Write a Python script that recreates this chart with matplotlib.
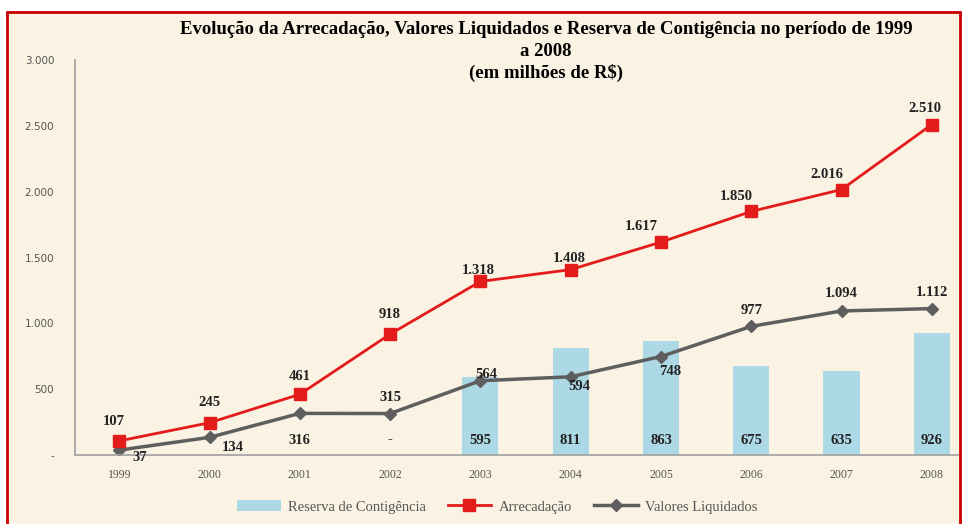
import numpy as np
import matplotlib.pyplot as plt
from matplotlib.patches import Rectangle

anos = ["1999", "2000", "2001", "2002", "2003", "2004", "2005", "2006", "2007", "2008"]
arrecadacao = [107, 245, 461, 918, 1318, 1408, 1617, 1850, 2016, 2510]
valores_liq = [37, 134, 316, 315, 564, 594, 748, 977, 1094, 1112]
reserva = [0, 0, 0, 0, 595, 811, 863, 675, 635, 926]
reserva_txt = ["", "", "316", "-", "595", "811", "863", "675", "635", "926"]
yticks = [0, 500, 1000, 1500, 2000, 2500, 3000]
ytick_txt = ["-", "500", "1.000", "1.500", "2.000", "2.500", "3.000"]


def fmt(v):
    return f"{v:,}".replace(",", ".")


fig = plt.figure(figsize=(9.63, 5.24), dpi=100)
fig.patches.append(Rectangle((7 / 963, -0.02), 953 / 963, (524 - 12) / 524 + 0.02,
                             transform=fig.transFigure, facecolor="#FAF2E3",
                             edgecolor="#CC0000", linewidth=2, zorder=-10))

ax = fig.add_axes([75 / 963, 1 - 455 / 524, (958 - 75) / 963, (455 - 60) / 524])
ax.patch.set_alpha(0)
x = np.arange(len(anos))

b = ax.bar(x, reserva, width=0.4, color="#ADD8E6", zorder=1, label="Reserva de Contigência")
l1, = ax.plot(x, arrecadacao, color="#E31B1B", lw=2, marker="s", ms=8, zorder=3,
              label="Arrecadação")
l2, = ax.plot(x, valores_liq, color="#5E5E5E", lw=2.5, marker="D", ms=6.5, zorder=2,
              label="Valores Liquidados")

ax.set_xlim(-0.49, 9.29)
ax.set_ylim(0, 3000)
ax.set_xticks(x)
ax.set_xticklabels(anos, fontsize=8.5, color="#555555", family="Liberation Serif")
ax.set_yticks(yticks)
ax.set_yticklabels(ytick_txt, fontsize=7.5, color="#555555")
ax.tick_params(length=0, pad=10)
ax.tick_params(axis="y", pad=15)
for s in ["top", "right"]:
    ax.spines[s].set_visible(False)
for s in ["left", "bottom"]:
    ax.spines[s].set_color("#A0A0A0")
    ax.spines[s].set_linewidth(1.2)

lbl = dict(fontsize=10.5, fontweight="bold", family="Liberation Serif", color="#222222",
           ha="center", va="center")

# rotulos Arrecadacao (deslocamento em pixels)
arr_off = [(-5, 19), (0, 20), (0, 18), (0, 20), (-2, 11), (-1, 11), (-20, 16), (-15, 15),
           (-15, 15), (-7, 16)]
for i, v in enumerate(arrecadacao):
    ax.annotate(fmt(v), (x[i], v), xytext=arr_off[i], textcoords="offset pixels", **lbl)

val_off = [(21, -7), (23, -10), None, (0, 16), (6, 6), (9, -10), (9, -15), (0, 16),
           (0, 17), (0, 16)]
for i, v in enumerate(valores_liq):
    if val_off[i] is None:
        continue
    ax.annotate(fmt(v), (x[i], v), xytext=val_off[i], textcoords="offset pixels", **lbl)

for i, t in enumerate(reserva_txt):
    if t:
        ax.annotate(t, (x[i], 0), xytext=(0, 15), textcoords="offset pixels", **lbl)

tit = dict(ha="center", va="center", fontsize=13.5, fontweight="bold", family="Liberation Serif")
fig.text(546 / 963, 1 - 30 / 524, "Evolução da Arrecadação, Valores Liquidados e Reserva de Contigência no período de 1999", **tit)
fig.text(546 / 963, 1 - 51 / 524, "a 2008", **tit)
fig.text(546 / 963, 1 - 73 / 524, "(em milhões de R$)", **tit)

leg = fig.legend([b, l1, l2], ["Reserva de Contigência", "Arrecadação", "Valores Liquidados"],
                 loc="center", bbox_to_anchor=(497 / 963, 1 - 507 / 524), ncol=3,
                 frameon=False, handlelength=3, columnspacing=1.5, handletextpad=0.5,
                 prop={"family": "Liberation Serif", "size": 10.5})
for t in leg.get_texts():
    t.set_color("#555555")

fig.savefig("out.png", dpi=100, facecolor="white")
